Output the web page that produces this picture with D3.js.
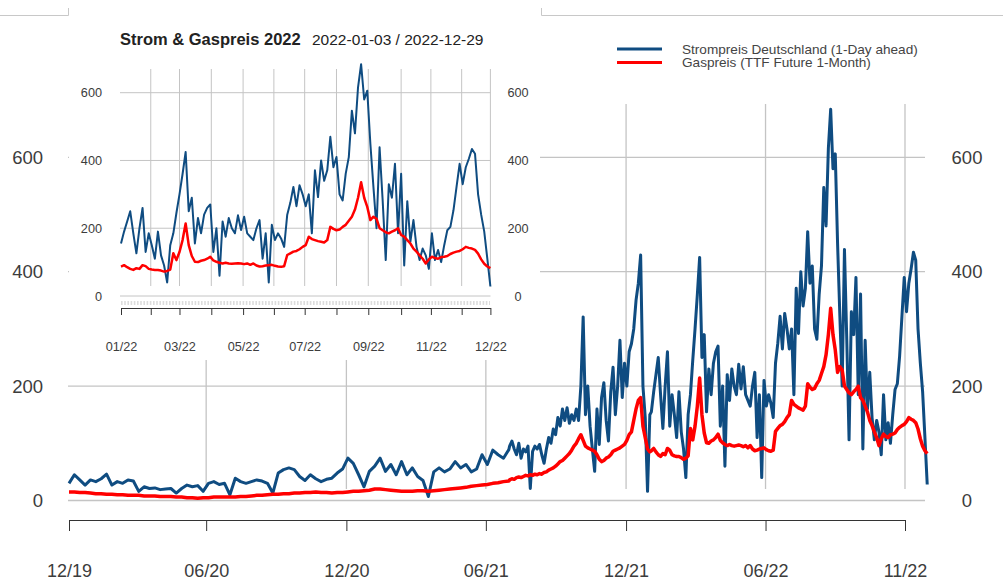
<!DOCTYPE html>
<html>
<head>
<meta charset="utf-8">
<script src="https://cdn.jsdelivr.net/npm/d3@7"></script>
<style>
  body { margin: 0; background: #fff; }
  text { font-family: "Liberation Sans", Arial, sans-serif; }
</style>
</head>
<body>
<div id="chart"></div>
<script>
// Strompreis (1-Day ahead) und Gaspreis (TTF), EUR/MWh
// weekly values Dec 2019 - Jun 2021
var start19 = "2019-12-05";
var strom19 = [30, 45, 36, 27, 36, 33, 38, 46, 27, 33,
    30, 36, 34, 16, 24, 21, 22, 19, 20, 21,
    13, 21, 27, 24, 26, 16, 30, 33, 28, 30,
    10, 39, 33, 30, 33, 36, 34, 30, 13, 48,
    54, 57, 54, 42, 35, 45, 38, 33, 37, 39,
    48, 55, 74, 65, 45, 24, 51, 60, 74, 51,
    63, 45, 68, 45, 57, 42, 35, 7, 50, 57,
    50, 55, 68, 57, 63, 50, 55, 80, 63, 88,
    80, 74, 89];
var gas19 = [15, 15, 14, 14, 13, 12, 12, 11, 11, 10,
    10, 9, 9, 9, 8, 8, 8, 7, 7, 7,
    6, 6, 5, 5, 4, 5, 5, 6, 6, 6,
    6, 6, 7, 7, 8, 9, 9, 10, 11, 11,
    12, 12, 13, 13, 14, 14, 15, 14, 14, 13,
    14, 14, 15, 16, 16, 17, 18, 20, 20, 19,
    18, 17, 16, 16, 16, 17, 17, 16, 17, 18,
    19, 20, 21, 22, 23, 25, 26, 27, 28, 30,
    31, 33, 34];

// every 3 days, Jul - Dec 2021
var start21 = "2021-07-02";
var strom21 = [95, 104, 90, 80, 100, 74, 90, 85, 95, 21,
    86, 95, 90, 98, 80, 65, 90, 110, 100, 125,
    115, 145, 130, 160, 140, 162, 135, 150, 140, 160,
    140, 200, 321, 150, 200, 130, 90, 51, 160, 98,
    180, 206, 140, 104, 190, 233, 150, 200, 280, 180,
    240, 200, 260, 274, 300, 350, 380, 429, 200, 145,
    16, 150];
var gas21 = [36, 38, 37, 40, 41, 40, 42, 44, 43, 45,
    44, 46, 45, 47, 46, 49, 50, 53, 55, 57,
    60, 64, 68, 70, 74, 78, 82, 88, 95, 100,
    108, 115, 105, 95, 92, 90, 88, 86, 80, 72,
    68, 70, 74, 76, 80, 86, 88, 90, 92, 95,
    98, 105, 115, 120, 140, 160, 175, 180, 130, 110,
    90, 85];

// every 3 days, 2022-01-03 / 2022-12-29
var start22 = "2022-01-03";
var strom22 = [155, 190, 220, 250, 185, 126, 200, 260, 130, 185,
    150, 110, 190, 120, 90, 40, 150, 185, 245, 300,
    360, 425, 250, 290, 155, 230, 185, 240, 260, 270,
    130, 200, 60, 220, 175, 230, 200, 185, 238, 195,
    234, 185, 175, 165, 200, 224, 110, 185, 40, 210,
    165, 185, 170, 145, 240, 275, 322, 265, 327, 300,
    265, 300, 185, 371, 292, 400, 340, 371, 470, 380,
    410, 300, 282, 361, 410, 547, 480, 616, 684, 580,
    606, 450, 322, 200, 439, 282, 106, 330, 290, 390,
    185, 361, 90, 280, 160, 224, 145, 106, 140, 120,
    80, 185, 106, 136, 100, 150, 194, 204, 253, 322,
    390, 330, 380, 405, 434, 420, 300, 240, 190, 110,
    28];
var gas22 = [87, 91, 85, 80, 77, 82, 80, 91, 88, 80,
    78, 77, 77, 75, 72, 74, 78, 126, 106, 130,
    165, 214, 150, 118, 101, 100, 104, 106, 110, 116,
    105, 101, 98, 96, 98, 96, 95, 96, 97, 96,
    94, 96, 92, 96, 90, 87, 88, 90, 91, 92,
    89, 87, 86, 88, 121, 126, 131, 133, 138, 145,
    150, 175, 168, 165, 162, 160, 158, 165, 204, 198,
    194, 196, 204, 210, 222, 234, 255, 290, 336, 290,
    263, 224, 234, 228, 200, 194, 188, 185, 190, 194,
    200, 180, 175, 165, 155, 140, 131, 120, 110, 96,
    108, 116, 112, 110, 115, 116, 118, 124, 128, 131,
    133, 138, 145, 142, 140, 136, 125, 108, 95, 87,
    82];

var yTicks = [0, 200, 400, 600];
var mainTickDates = ["2019-12-05", "2020-06-01", "2020-12-01", "2021-06-01", "2021-12-01", "2022-06-01", "2022-11-30"];
var mainTickLabels = ["12/19", "06/20", "12/20", "06/21", "12/21", "06/22", "11/22"];
var insetTickDates = ["2022-01-03", "2022-02-01", "2022-03-01", "2022-04-01", "2022-05-02", "2022-06-01",
    "2022-07-01", "2022-08-01", "2022-09-01", "2022-10-03", "2022-11-01", "2022-12-01", "2022-12-29"];
var insetTickLabels = ["01/22", "", "03/22", "", "05/22", "", "07/22", "", "09/22", "", "11/22", "", "12/22"];
var seriesNames = ["Strompreis Deutschland (1-Day ahead)", "Gaspreis (TTF Future 1-Month)"];
var seriesColors = ["#0f4c81", "#ff0000"];

var width = 1003, height = 583;
var parse = d3.timeParse("%Y-%m-%d");
var gridColor = "#c4c4c4", textColor = "#3c3c3c";

function build(start, step, strom, gas) {
    var s = parse(start);
    return strom.map(function (v, i) {
        return {date: d3.timeDay.offset(s, i * step), strom: v, gas: gas[i]};
    });
}
var data = build(start19, 7, strom19, gas19)
    .concat(build(start21, 3, strom21, gas21), build(start22, 3, strom22, gas22));
var data22 = data.filter(function (d) { return d.date >= parse(start22); });

var svg = d3.select("#chart")
    .append("svg")
    .attr("width", width)
    .attr("height", height);
svg.append("rect").attr("width", width).attr("height", height).attr("fill", "#fff");

// ---------- main chart ----------
var x = d3.scaleTime()
    .domain([parse(mainTickDates[0]), parse(mainTickDates[mainTickDates.length - 1])])
    .range([69, 905]);
var y = d3.scaleLinear().domain([0, 600]).range([500.5, 157.3]);

var main = svg.append("g").attr("class", "main");

main.selectAll(".hgrid")
    .data(yTicks).enter()
    .append("line")
    .attr("x1", 68).attr("x2", 925)
    .attr("y1", function (d) { return y(d); })
    .attr("y2", function (d) { return y(d); })
    .attr("stroke", gridColor).attr("stroke-width", 1.3);

main.selectAll(".vgrid")
    .data(mainTickDates.slice(1)).enter()
    .append("line")
    .attr("x1", function (d) { return x(parse(d)); })
    .attr("x2", function (d) { return x(parse(d)); })
    .attr("y1", 104).attr("y2", 489)
    .attr("stroke", gridColor).attr("stroke-width", 1.3);

main.selectAll(".ylab-l")
    .data(yTicks).enter()
    .append("text")
    .attr("x", 43)
    .attr("y", function (d) { return y(d); })
    .attr("dy", "0.36em")
    .attr("text-anchor", "end")
    .attr("font-size", "18.5px")
    .attr("fill", textColor)
    .text(function (d) { return d; });

main.selectAll(".ylab-r")
    .data(yTicks).enter()
    .append("text")
    .attr("x", 967)
    .attr("y", function (d) { return y(d); })
    .attr("dy", "0.36em")
    .attr("text-anchor", "middle")
    .attr("font-size", "18.5px")
    .attr("fill", textColor)
    .text(function (d) { return d; });

var xAxis = main.append("g")
    .attr("transform", "translate(0,520)")
    .call(d3.axisBottom(x)
        .tickValues(mainTickDates.map(parse))
        .tickFormat(function (d, i) { return mainTickLabels[i]; })
        .tickSize(11)
        .tickSizeOuter(0)
        .tickPadding(33));
xAxis.select(".domain").attr("stroke", "#333");
xAxis.selectAll(".tick line").attr("stroke", "#333");
xAxis.selectAll("text")
    .attr("font-size", "18px")
    .attr("font-family", "Liberation Sans, Arial, sans-serif")
    .attr("fill", textColor);

var lineStrom = d3.line()
    .x(function (d) { return x(d.date); })
    .y(function (d) { return y(d.strom); });
var lineGas = d3.line()
    .x(function (d) { return x(d.date); })
    .y(function (d) { return y(d.gas); });

main.append("path")
    .datum(data)
    .attr("d", lineStrom)
    .attr("fill", "none")
    .attr("stroke", seriesColors[0])
    .attr("stroke-width", 3)
    .attr("stroke-linejoin", "round");
main.append("path")
    .datum(data)
    .attr("d", lineGas)
    .attr("fill", "none")
    .attr("stroke", seriesColors[1])
    .attr("stroke-width", 3.5)
    .attr("stroke-linejoin", "round");

// legend
var legend = svg.append("g").attr("class", "legend");
seriesNames.forEach(function (name, i) {
    var ly = 49 + i * 13.5;
    legend.append("line")
        .attr("x1", 617).attr("x2", 662)
        .attr("y1", ly).attr("y2", ly)
        .attr("stroke", seriesColors[i])
        .attr("stroke-width", 3);
    legend.append("text")
        .attr("x", 682).attr("y", ly)
        .attr("dy", "0.36em")
        .attr("font-size", "13.6px")
        .attr("fill", "#444")
        .text(name);
});

// thin frame fragments at the top of the screenshot
svg.append("path")
    .attr("d", "M0,15.5H68.5V8 M541.5,8V15.5H1003")
    .attr("fill", "none")
    .attr("stroke", "#c8c8c8")
    .attr("stroke-width", 1);

// ---------- inset 2022 ----------
var inset = svg.append("g").attr("class", "inset");
inset.append("rect")
    .attr("x", 69).attr("y", 0)
    .attr("width", 471).attr("height", 360)
    .attr("fill", "#fff");

var xi = d3.scaleTime()
    .domain([parse(insetTickDates[0]), parse(insetTickDates[insetTickDates.length - 1])])
    .range([121, 490.4]);
var yi = d3.scaleLinear().domain([0, 600]).range([296, 92.7]);

inset.selectAll(".hgrid")
    .data(yTicks).enter()
    .append("line")
    .attr("x1", 120).attr("x2", 490.5)
    .attr("y1", function (d) { return yi(d); })
    .attr("y2", function (d) { return yi(d); })
    .attr("stroke", gridColor).attr("stroke-width", 1);

inset.selectAll(".vgrid")
    .data(insetTickDates.slice(1)).enter()
    .append("line")
    .attr("x1", function (d) { return xi(parse(d)); })
    .attr("x2", function (d) { return xi(parse(d)); })
    .attr("y1", 69).attr("y2", 286)
    .attr("stroke", gridColor).attr("stroke-width", 1);

inset.append("line")
    .attr("x1", 121).attr("x2", 490)
    .attr("y1", 303).attr("y2", 303)
    .attr("stroke", "#dcdcdc")
    .attr("stroke-width", 4)
    .attr("stroke-dasharray", "1.6,1.6");

inset.selectAll(".ylab-l")
    .data(yTicks).enter()
    .append("text")
    .attr("x", 102)
    .attr("y", function (d) { return yi(d); })
    .attr("dy", "0.36em")
    .attr("text-anchor", "end")
    .attr("font-size", "12.7px")
    .attr("fill", textColor)
    .text(function (d) { return d; });

inset.selectAll(".ylab-r")
    .data(yTicks).enter()
    .append("text")
    .attr("x", 518)
    .attr("y", function (d) { return yi(d); })
    .attr("dy", "0.36em")
    .attr("text-anchor", "middle")
    .attr("font-size", "12.7px")
    .attr("fill", textColor)
    .text(function (d) { return d; });

var xAxisI = inset.append("g")
    .attr("transform", "translate(0,308)")
    .call(d3.axisBottom(xi)
        .tickValues(insetTickDates.map(parse))
        .tickFormat(function (d, i) { return insetTickLabels[i]; })
        .tickSize(7)
        .tickSizeOuter(0)
        .tickPadding(27));
xAxisI.select(".domain").attr("stroke", "#333");
xAxisI.selectAll(".tick line").attr("stroke", "#333");
xAxisI.selectAll("text")
    .attr("font-size", "12.7px")
    .attr("font-family", "Liberation Sans, Arial, sans-serif")
    .attr("fill", textColor);

var lineStromI = d3.line()
    .x(function (d) { return xi(d.date); })
    .y(function (d) { return yi(d.strom); });
var lineGasI = d3.line()
    .x(function (d) { return xi(d.date); })
    .y(function (d) { return yi(d.gas); });

inset.append("path")
    .datum(data22)
    .attr("d", lineStromI)
    .attr("fill", "none")
    .attr("stroke", seriesColors[0])
    .attr("stroke-width", 2)
    .attr("stroke-linejoin", "round");
inset.append("path")
    .datum(data22)
    .attr("d", lineGasI)
    .attr("fill", "none")
    .attr("stroke", seriesColors[1])
    .attr("stroke-width", 2.5)
    .attr("stroke-linejoin", "round");

var title = inset.append("text")
    .attr("x", 120).attr("y", 45)
    .attr("fill", "#222");
title.append("tspan")
    .attr("font-weight", "bold")
    .attr("font-size", "16.5px")
    .text("Strom & Gaspreis 2022");
title.append("tspan")
    .attr("x", 312)
    .attr("font-size", "15.5px")
    .text("2022-01-03 / 2022-12-29");
</script>
</body>
</html>
